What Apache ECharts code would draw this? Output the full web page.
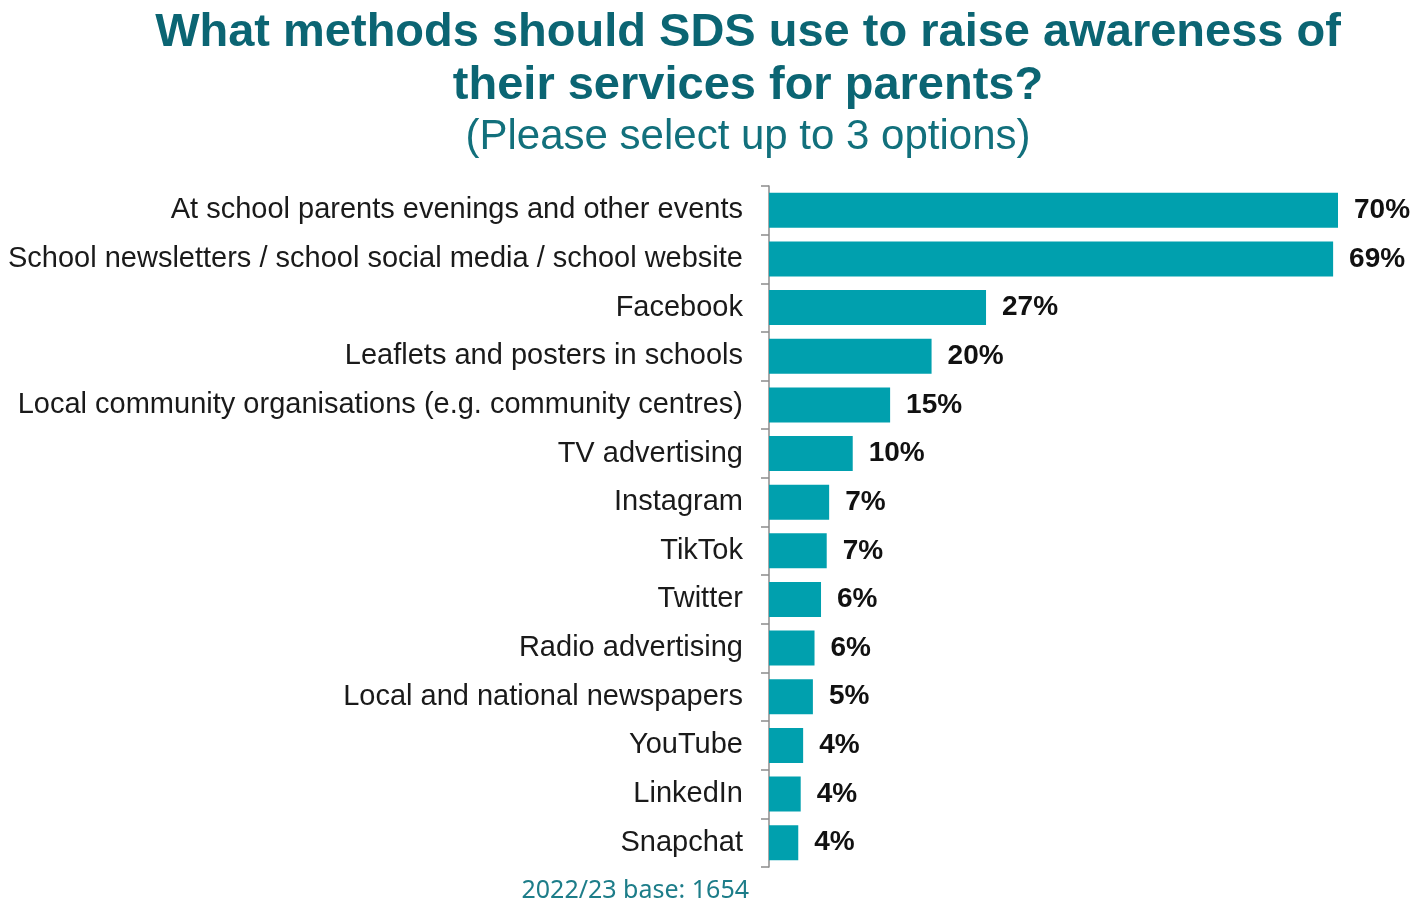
<!DOCTYPE html>
<html><head><meta charset="utf-8">
<script src="https://cdn.jsdelivr.net/npm/echarts@6/dist/echarts.min.js"></script>
<style>html,body{margin:0;padding:0;background:#fff}#c{width:1415px;height:903px}</style>
</head><body><div id="c"></div>
<script>
const categories = [
  "At school parents evenings and other events",
  "School newsletters / school social media / school website",
  "Facebook",
  "Leaflets and posters in schools",
  "Local community organisations (e.g. community centres)",
  "TV advertising",
  "Instagram",
  "TikTok",
  "Twitter",
  "Radio advertising",
  "Local and national newspapers",
  "YouTube",
  "LinkedIn",
  "Snapchat"
];
const values = [70.0, 69.4, 26.7, 20.0, 14.9, 10.3, 7.4, 7.1, 6.4, 5.6, 5.4, 4.2, 3.9, 3.6];
const titleLines = ["What methods should SDS use to raise awareness of", "their services for parents?"];
const subtitle = "(Please select up to 3 options)";
const footnote = "2022/23 base: 1654";

const chart = echarts.init(document.getElementById('c'));
chart.setOption({
  animation: false,
  title: [
    { text: titleLines.join('\n'), left: 743, textAlign: 'center', top: 2,
      textStyle: { fontFamily: 'Liberation Sans', fontWeight: 'bold', fontSize: 47, color: '#0B6573', lineHeight: 53 } },
    { text: subtitle, left: 743, textAlign: 'center', top: 111,
      textStyle: { fontFamily: 'Liberation Sans', fontWeight: 'normal', fontSize: 42, color: '#12707C' } },
    { text: footnote, left: 744, textAlign: 'right', top: 873,
      textStyle: { fontFamily: 'Noto Sans', fontWeight: 'normal', fontSize: 25, color: '#1D7D89' } }
  ],
  grid: { left: 769, right: 77, top: 186, bottom: 36, containLabel: false },
  xAxis: { type: 'value', min: 0, max: 70, show: false },
  yAxis: {
    type: 'category', inverse: true, data: categories,
    axisLine: { show: true, lineStyle: { color: '#8c8c8c', width: 1.5 } },
    axisTick: { show: true, length: 8, lineStyle: { color: '#8c8c8c', width: 1.5 } },
    axisLabel: { margin: 26, fontFamily: 'Liberation Sans', fontSize: 29, color: '#1a1a1a' },
    splitLine: { show: false }
  },
  series: [{
    type: 'bar', data: values, barCategoryGap: '28%',
    itemStyle: { color: '#00A0AE' },
    label: { show: true, position: 'right', distance: 16,
      fontFamily: 'Liberation Sans', fontWeight: 'bold', fontSize: 28, color: '#111',
      formatter: p => Math.round(p.value) + '%' }
  }]
});
</script></body></html>
